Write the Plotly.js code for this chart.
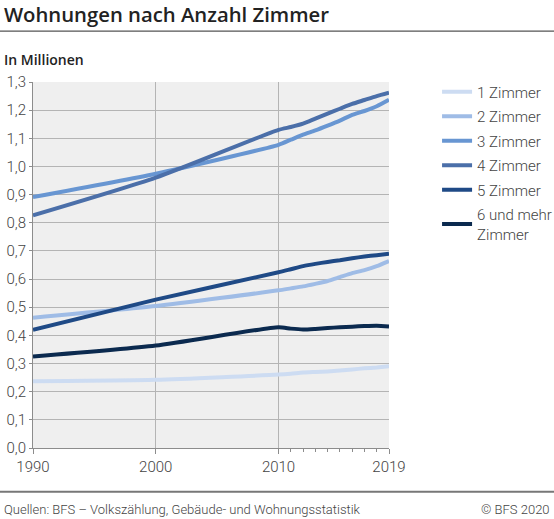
<!DOCTYPE html>
<html>
<head>
<meta charset="utf-8">
<script src="https://cdn.plot.ly/plotly-3.0.1.min.js"></script>
<style>html,body{margin:0;padding:0;background:#fff;}#chart{width:554px;height:519px;}</style>
</head>
<body>
<div id="chart"></div>
<script>
const years = [1990, 2000, 2010, 2011, 2012, 2013, 2014, 2015, 2016, 2017, 2018, 2019];
const zimmer1 = [0.237, 0.242, 0.261, 0.264, 0.268, 0.270, 0.272, 0.275, 0.279, 0.283, 0.286, 0.290];
const zimmer2 = [0.463, 0.504, 0.560, 0.567, 0.574, 0.583, 0.593, 0.607, 0.621, 0.632, 0.646, 0.664];
const zimmer3 = [0.891, 0.974, 1.077, 1.095, 1.113, 1.128, 1.145, 1.163, 1.183, 1.197, 1.214, 1.237];
const zimmer4 = [0.826, 0.960, 1.130, 1.140, 1.152, 1.170, 1.188, 1.205, 1.222, 1.236, 1.250, 1.262];
const zimmer5 = [0.420, 0.527, 0.624, 0.635, 0.646, 0.654, 0.661, 0.667, 0.674, 0.680, 0.685, 0.690];
const zimmer6 = [0.325, 0.364, 0.429, 0.424, 0.421, 0.423, 0.426, 0.429, 0.431, 0.433, 0.434, 0.432];
const seriesNames = ["1 Zimmer", "2 Zimmer", "3 Zimmer", "4 Zimmer", "5 Zimmer", "6 und mehr<br>Zimmer"];
const seriesColors = ["#cddcf2", "#9fbce6", "#6896d2", "#4b6fa9", "#1f4a86", "#0b2a4f"];
const xTickVals = [1990, 2000, 2010, 2019];
const xMinorVals = [2011, 2012, 2013, 2014, 2015, 2016, 2017, 2018];

const allSeries = [zimmer1, zimmer2, zimmer3, zimmer4, zimmer5, zimmer6];
const traces = allSeries.map((vals, i) => ({
  x: years, y: vals, type: 'scatter', mode: 'lines',
  name: seriesNames[i], legendgroup: 'g' + i,
  line: {color: seriesColors[i], width: 4, shape: 'spline', smoothing: 0.6},
  hoverinfo: 'skip'
}));

const font = 'Roboto, "Open Sans", sans-serif';
const headFont = '"Open Sans", Roboto, sans-serif';
const layout = {
  width: 554, height: 519,
  margin: {l: 33, r: 165, t: 82, b: 71, autoexpand: false},
  paper_bgcolor: '#ffffff', plot_bgcolor: '#efefef',
  separators: ',.',
  font: {family: font, color: '#333333', size: 14, weight: 300},
  title: {text: 'Wohnungen nach Anzahl Zimmer', x: 0.007, xanchor: 'left', y: 0.972, yanchor: 'middle', font: {family: headFont, size: 20.3, color: '#222222', weight: 600}},
  showlegend: true,
  legend: {x: 1.135, y: 1.018, xanchor: 'left', yanchor: 'top', font: {family: font, size: 15, color: '#444444', weight: 300}, tracegroupgap: 2, bgcolor: 'rgba(0,0,0,0)'},
  xaxis: {
    range: [1990, 2019], tickmode: 'array', tickvals: xTickVals, ticktext: xTickVals.map(String),
    showgrid: true, gridcolor: '#b4b4b4', gridwidth: 1, zeroline: false,
    showline: true, linecolor: '#8c8c8c', linewidth: 1,
    ticks: 'outside', ticklen: 5, tickcolor: '#8c8c8c',
    tickfont: {family: font, size: 15, color: '#444444', weight: 300},
    minor: {tickmode: 'array', tickvals: xMinorVals, ticklen: 3, tickcolor: '#8c8c8c', showgrid: false},
    automargin: false, fixedrange: true
  },
  yaxis: {
    range: [0, 1.3], dtick: 0.1, tick0: 0, tickformat: '.1f',
    showgrid: true, gridcolor: '#b4b4b4', gridwidth: 1, zeroline: false,
    showline: true, linecolor: '#8c8c8c', linewidth: 1,
    ticks: 'outside', ticklen: 3, tickcolor: '#8c8c8c',
    tickfont: {family: font, size: 15, color: '#444444', weight: 300},
    automargin: false, fixedrange: true
  },
  shapes: [
    {type: 'line', xref: 'paper', yref: 'paper', x0: -0.0927, x1: 1.4635, y0: 1.139, y1: 1.139, line: {color: '#555555', width: 1.3}},
    {type: 'line', xref: 'paper', yref: 'paper', x0: -0.0927, x1: 1.4635, y0: -0.1195, y1: -0.1195, line: {color: '#777777', width: 2}}
  ],
  annotations: [
    {text: 'In Millionen', xref: 'paper', yref: 'paper', x: -0.087, y: 1.062, xanchor: 'left', yanchor: 'middle', showarrow: false, font: {family: headFont, size: 14, color: '#222222', weight: 600}},
    {text: 'Quellen: BFS – Volkszählung, Gebäude- und Wohnungsstatistik', xref: 'paper', yref: 'paper', x: -0.087, y: -0.168, xanchor: 'left', yanchor: 'middle', showarrow: false, font: {family: font, size: 13, color: '#444444', weight: 300}},
    {text: '© BFS 2020', xref: 'paper', yref: 'paper', x: 1.457, y: -0.168, xanchor: 'right', yanchor: 'middle', showarrow: false, font: {family: font, size: 13, color: '#444444', weight: 300}}
  ]
};

Plotly.newPlot('chart', traces, layout, {displayModeBar: false, staticPlot: true});
</script>
</body>
</html>
